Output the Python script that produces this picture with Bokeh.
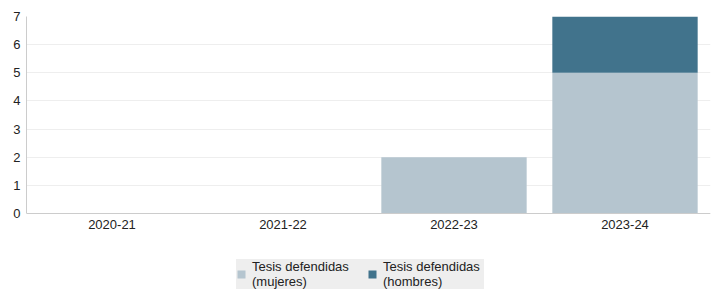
from bokeh.plotting import figure
from bokeh.models import Legend, LegendItem, FactorRange, Range1d, FixedTicker
from bokeh.embed import file_html
from bokeh.resources import INLINE

years = ["2020-21", "2021-22", "2022-23", "2023-24"]
mujeres = [0, 0, 2, 5]
hombres = [0, 0, 0, 2]
series = ["mujeres", "hombres"]
labels = ["Tesis defendidas\n(mujeres)", "Tesis defendidas\n(hombres)"]
colors = ["#b5c5cf", "#41738c"]
yticks = [0, 1, 2, 3, 4, 5, 6, 7]

FONT = "Liberation Sans"

# The frame extends below the value axis so the legend can sit under the chart.
FRAME_H = 282
Y_MAX = 7
Y_MIN = Y_MAX - FRAME_H * Y_MAX / 197.0

p = figure(x_range=FactorRange(*years, range_padding=0), y_range=Range1d(Y_MIN, Y_MAX),
           width=722, height=298, output_backend="svg", toolbar_location=None,
           min_border_left=26, min_border_right=12, min_border_top=16,
           min_border_bottom=0)
p.outline_line_color = None

data = {"years": years, "mujeres": mujeres, "hombres": hombres}
rs = p.vbar_stack(series, x="years", width=0.85, color=colors, line_color=None,
                  source=data)

p.xgrid.grid_line_color = None
p.ygrid.grid_line_color = "#eeeeee"
p.yaxis.ticker = FixedTicker(ticks=yticks)
p.yaxis.bounds = (0, 7)
p.xaxis.fixed_location = 0
for ax in (p.xaxis[0], p.yaxis[0]):
    ax.axis_line_color = "#cccccc"
    ax.major_tick_line_color = None
    ax.minor_tick_line_color = None
    ax.major_tick_out = 0
    ax.major_tick_in = 0
    ax.major_label_text_font = FONT
    ax.major_label_text_font_size = "13px"
    ax.major_label_text_color = "#222222"
p.yaxis.major_label_standoff = 6
p.xaxis.major_label_standoff = 6

legend = Legend(items=[LegendItem(label=labels[i], renderers=[rs[i]]) for i in range(2)],
                orientation="horizontal", location=(210, 9),
                background_fill_color="#eeeeee", background_fill_alpha=1,
                border_line_color=None, label_text_font=FONT,
                label_text_font_size="13px", label_text_color="#222222",
                label_width=101,
                glyph_width=10, glyph_height=10, spacing=14, padding=17,
                margin=0, label_standoff=6)
p.add_layout(legend, "center")

open("out.html", "w").write(file_html(p, INLINE))
